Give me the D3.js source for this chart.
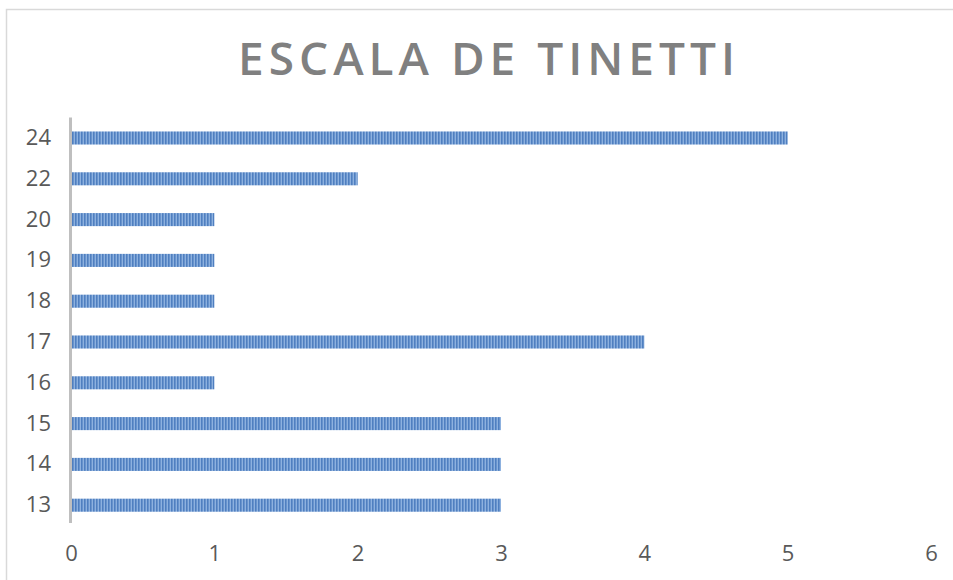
<!DOCTYPE html>
<html lang="es">
<head>
    <meta charset="UTF-8">
    <title>Escala de Tinetti</title>
    <script src="https://d3js.org/d3.v7.min.js"></script>
    <style>
        body { margin: 0; background: #fff; }
    </style>
</head>
<body>
<svg width="953" height="580"></svg>
<script>
    // data
    var categories = ["13", "14", "15", "16", "17", "18", "19", "20", "22", "24"];
    var values = [3, 3, 3, 1, 4, 1, 1, 1, 2, 5];
    var xTicks = [0, 1, 2, 3, 4, 5, 6];
    var title = "ESCALA DE TINETTI";

    var svg = d3.select("svg");
    var data = categories.map(function (c, i) {
        return {cat: c, value: values[i]};
    });

    // chart frame
    svg.append("rect")
        .attr("x", 6.5).attr("y", 9.5)
        .attr("width", 950).attr("height", 580)
        .attr("fill", "#fff")
        .attr("stroke", "#d9d9d9")
        .attr("stroke-width", 1.5);

    // striped fill like the original bars
    var pat = svg.append("defs").append("pattern")
        .attr("id", "stripes")
        .attr("patternUnits", "userSpaceOnUse")
        .attr("width", 3).attr("height", 10);
    pat.append("rect").attr("width", 3).attr("height", 10).attr("fill", "#8db1df");
    pat.append("rect").attr("width", 1.6).attr("height", 10).attr("fill", "#4f7fc0");

    var x = d3.scaleLinear()
        .domain([0, 6])
        .range([71, 931]);

    var y = d3.scaleBand()
        .domain(categories.slice().reverse())
        .range([117.6, 525.6])
        .paddingInner(0.68)
        .paddingOuter(0.34);

    svg.append("text")
        .attr("x", 489)
        .attr("y", 75)
        .attr("text-anchor", "middle")
        .attr("font-family", "Open Sans, sans-serif")
        .attr("font-weight", 600)
        .attr("font-size", 46)
        .attr("letter-spacing", 5)
        .attr("fill", "#808080")
        .text(title);

    svg.selectAll(".bar")
        .data(data)
        .enter()
        .append("rect")
        .attr("class", "bar")
        .attr("x", x(0))
        .attr("y", function (d) { return y(d.cat); })
        .attr("width", function (d) { return x(d.value) - x(0); })
        .attr("height", y.bandwidth())
        .attr("fill", "url(#stripes)");

    // vertical axis line
    svg.append("line")
        .attr("x1", x(0) - 0.5).attr("x2", x(0) - 0.5)
        .attr("y1", 117.6).attr("y2", 523)
        .attr("stroke", "#bfbfbf")
        .attr("stroke-width", 3);

    var yAxis = svg.append("g")
        .attr("transform", "translate(" + (x(0) - 20) + ",0)")
        .call(d3.axisLeft(y).tickSize(0).tickPadding(0));
    yAxis.select(".domain").remove();
    yAxis.selectAll("text")
        .attr("font-family", "Open Sans, sans-serif")
        .attr("font-size", 22)
        .attr("fill", "#595959");

    var xAxis = svg.append("g")
        .attr("transform", "translate(0,545)")
        .call(d3.axisBottom(x).tickValues(xTicks).tickFormat(d3.format("d")).tickSize(0).tickPadding(0));
    xAxis.select(".domain").remove();
    xAxis.selectAll("text")
        .attr("dy", "0.71em")
        .attr("font-family", "Open Sans, sans-serif")
        .attr("font-size", 22)
        .attr("fill", "#595959");
</script>
</body>
</html>
